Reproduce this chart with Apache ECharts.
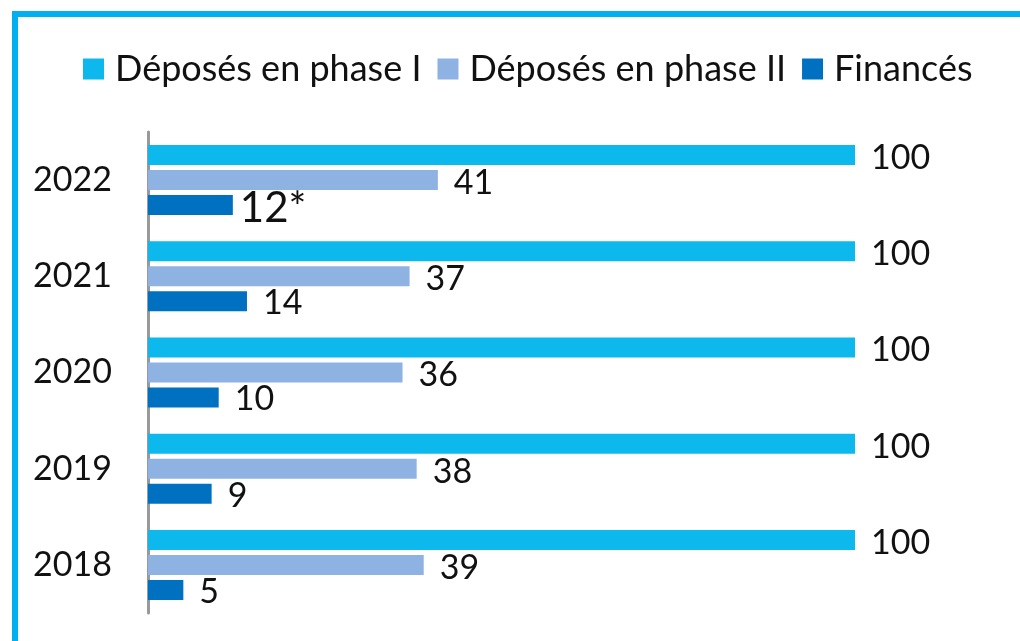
<!DOCTYPE html>
<html>
<head>
<meta charset="utf-8">
<script src="https://cdn.jsdelivr.net/npm/echarts@6/dist/echarts.min.js"></script>
<style>html,body{margin:0;padding:0;background:#fff;}#c{width:1020px;height:641px;}</style>
</head>
<body>
<div id="c"></div>
<script>
const categories = ['2022', '2021', '2020', '2019', '2018'];
const seriesNames = ['Déposés en phase I', 'Déposés en phase II', 'Financés'];
const phase1 = [100, 100, 100, 100, 100];
const phase2 = [41, 37, 36, 38, 39];
const finances = [12, 14, 10, 9, 5];
const financesLabels = ['12*', '14', '10', '9', '5'];

const colors = ['#0DB8EC', '#8EB3E2', '#0070C0'];
const FONT = 'Lato';

const chart = echarts.init(document.getElementById('c'), null, {renderer: 'canvas'});

function labelCfg(extra) {
  return Object.assign({
    show: true, position: 'right', distance: 16,
    fontFamily: FONT, fontSize: 34, color: '#111'
  }, extra || {});
}

const option = {
  animation: false,
  backgroundColor: '#fff',
  graphic: [{
    type: 'rect', left: 12, top: 11,
    shape: {x: 12, y: 11, width: 1100, height: 800},
    style: {fill: 'none', stroke: '#00B0F0', lineWidth: 6},
    silent: true
  }],
  legend: {
    top: 46, left: 78,
    itemWidth: 21, itemHeight: 21, itemGap: 16,
    icon: 'rect',
    textStyle: {fontFamily: FONT, fontSize: 36, color: '#111', padding: [0, 0, 0, 6]},
    data: seriesNames
  },
  grid: {left: 148, right: 165, top: 132, bottom: 28, containLabel: false},
  xAxis: {
    type: 'value', min: 0, max: 100,
    show: false
  },
  yAxis: {
    type: 'category', inverse: true, data: categories,
    axisLine: {show: true, lineStyle: {color: '#999', width: 3}},
    axisTick: {show: false},
    axisLabel: {fontFamily: FONT, fontSize: 34, color: '#111', margin: 36}
  },
  series: [
    {
      name: seriesNames[0], type: 'bar', data: phase1,
      barWidth: 20, barGap: '25%', barCategoryGap: '27%',
      itemStyle: {color: colors[0]},
      label: labelCfg({offset: [0, 3]})
    },
    {
      name: seriesNames[1], type: 'bar', data: phase2,
      barWidth: 20, barGap: '25%',
      itemStyle: {color: colors[1]},
      label: labelCfg({offset: [0, 3]})
    },
    {
      name: seriesNames[2], type: 'bar',
      data: finances.map((v, i) => i === 0
        ? {value: v, label: {fontSize: 42, distance: 7, offset: [0, 3]}}
        : {value: v}),
      barWidth: 20, barGap: '25%',
      itemStyle: {color: colors[2]},
      label: labelCfg({offset: [0, 2], formatter: p => financesLabels[p.dataIndex]})
    }
  ]
};
chart.setOption(option);
</script>
</body>
</html>
